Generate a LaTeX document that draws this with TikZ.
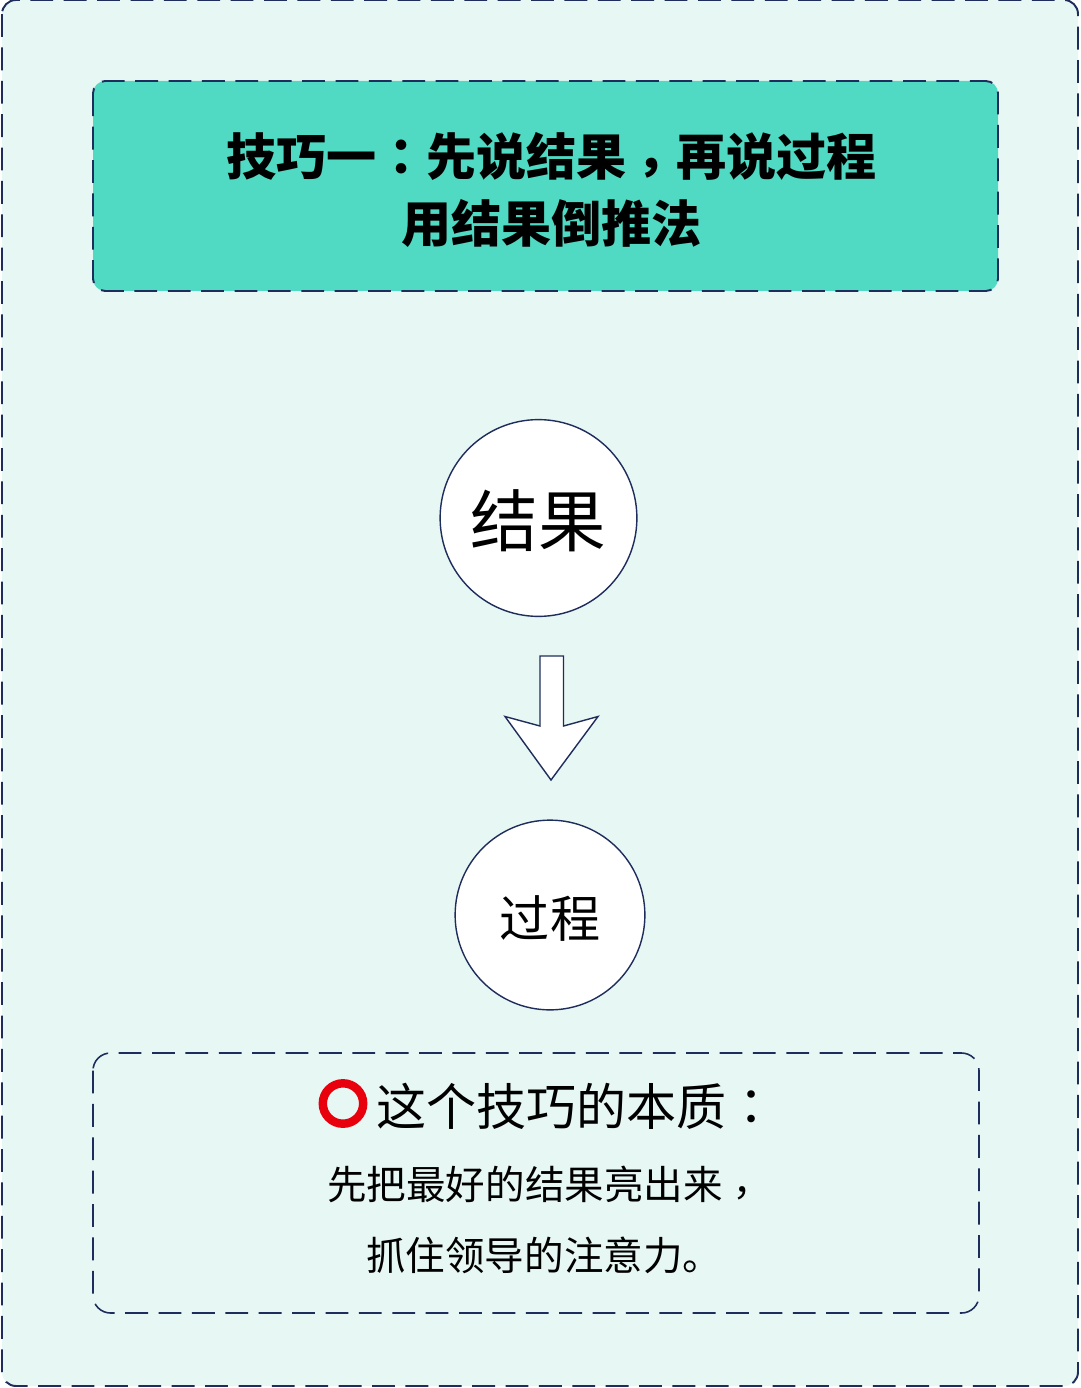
\documentclass[tikz,border=0pt]{standalone}
\usepackage{fontspec}
\setmainfont{Noto Sans CJK SC}
\newfontfamily\puncfont{Noto Sans CJK TC}
\usetikzlibrary{positioning}
\definecolor{linenavy}{HTML}{1F2D5C}
\definecolor{panelbg}{HTML}{E7F7F4}
\definecolor{titlebg}{HTML}{50D9C3}
\definecolor{ringred}{HTML}{E8000D}
\newcommand{\lowpunc}[1]{\raisebox{-0.2em}{\puncfont #1}}

\begin{document}
\begin{tikzpicture}[
    x=0.02cm,
    y=-0.02cm,
    dashbox/.style={draw=linenavy, line width=1.1pt, dash pattern=on 13pt off 6pt},
    roundnode/.style={circle, draw=linenavy, fill=white, line width=0.8pt, inner sep=0pt},
    lab/.style={font=\fontsize{22.5}{26}\selectfont, inner sep=0pt}
  ]
    \useasboundingbox (0,0) rectangle (1080,1388);
    % panels
    \draw[dashbox, fill=panelbg, rounded corners=8pt] (2,0) rectangle (1078,1386);
    \draw[dashbox, fill=titlebg, rounded corners=7pt] (93,81) rectangle (998,291);
    \draw[dashbox, line width=0.9pt, rounded corners=10pt] (93,1053) rectangle (979,1313);
    % title
    \node[align=center, inner sep=0pt, font=\fontsize{28.5}{38}\bfseries\selectfont] (title) at (551.5,190)
      {技巧一{\puncfont ：}先说结果\lowpunc{，}再说过程\\用结果倒推法};
    % circles
    \node[roundnode, minimum size=112pt, font=\fontsize{38.5}{44}\selectfont, text height=34pt, text depth=1.7pt] (result) at (538.5,518) {结果};
    \node[roundnode, minimum size=108pt, font=\fontsize{28.5}{34}\selectfont, text height=27.3pt, text depth=1.5pt] (process) at (550,915) {过程};
    % block arrow
    \draw[draw=linenavy, fill=white, line width=0.8pt, line join=miter]
      (540,656) -- (563.5,656) -- (563.5,726) -- (598,716.5) -- (551,780)
      -- (505,716.5) -- (540,726) -- cycle;
    % summary
    \node[circle, draw=ringred, line width=4.8pt, minimum size=23pt, inner sep=0pt] (ring) at (343,1103.5) {};
    \node[lab, font=\fontsize{28.5}{34}\selectfont, anchor=west] (essence) at (376,1106)
      {这个技巧的本质{\puncfont ：}};
    \node[lab, anchor=west] (lineone) at (327,1187) {先把最好的结果亮出来\lowpunc{，}};
    \node[lab, anchor=west] (linetwo) at (366,1255) {抓住领导的注意力。};
  \end{tikzpicture}
\end{document}
